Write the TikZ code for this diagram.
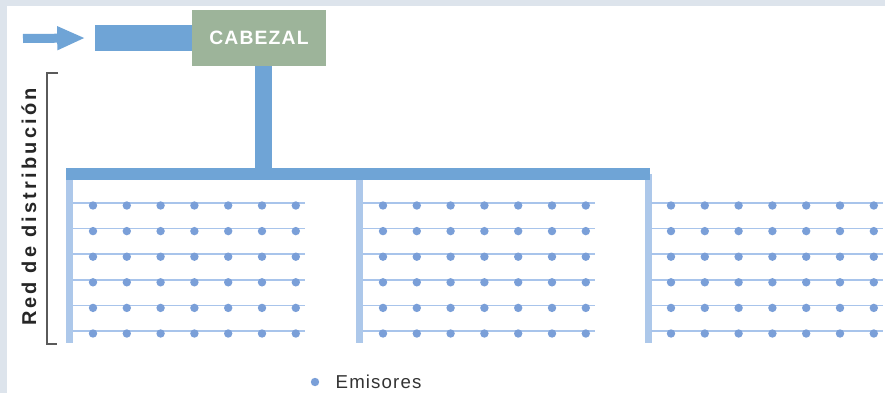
\documentclass[tikz,border=0pt]{standalone}
\usepackage{fontspec}
\setmainfont{Liberation Sans}
\newfontfamily\trackedfont{Liberation Sans}[LetterSpace=16]
\newfontfamily\lighttrack{Liberation Sans}[LetterSpace=6]
\usetikzlibrary{arrows.meta,positioning}

\definecolor{pipeblue}{RGB}{111,164,214}
\definecolor{laterblue}{RGB}{173,200,234}
\definecolor{rowblue}{RGB}{168,196,235}
\definecolor{dotblue}{RGB}{122,159,216}
\definecolor{headgreen}{RGB}{157,180,154}
\definecolor{framegray}{RGB}{221,228,236}
\definecolor{bracketgray}{RGB}{90,90,90}

\begin{document}
\begin{tikzpicture}[
    x=0.75pt, y=-0.75pt,
    headbox/.style={fill=headgreen, text=white, minimum width=100.5pt, minimum height=42pt,
        inner sep=0pt, font=\lighttrack\bfseries\fontsize{14.5}{16}\selectfont},
    feedbar/.style={fill=pipeblue, minimum width=72.75pt, minimum height=19.5pt, inner sep=0pt},
    riser/.style={draw=pipeblue, line width=12.75pt},
    header/.style={draw=pipeblue, line width=9pt},
    lateral/.style={draw=laterblue, line width=5.25pt},
    row/.style={draw=rowblue, line width=1.1pt},
    emitter/.style={circle, fill=dotblue, inner sep=0pt, minimum size=6.3pt}
]
\useasboundingbox (0,0) rectangle (885,393);

% Page background
\fill[framegray] (0,0) rectangle (885,393);
\fill[white] (7,6) rectangle (885,393);

% Head unit and water inlet
\node[headbox] (cabezal) at (259,38) {CABEZAL};
\node[feedbar, anchor=east] (feed) at ([xshift=0.75pt]cabezal.west) {};
\coordinate (inlet) at (23,38.5);
\draw[pipeblue, line width=6.75pt, -{Triangle[length=21pt,width=16.5pt]}]
    (inlet) -- ([xshift=-7.5pt]feed.west);

% Main line down to the header
\coordinate (tee) at (263,174);
\coordinate (hdrW) at (66,174);
\coordinate (hdrE) at (650,174);

% Laterals and emitter rows
\foreach \gx/\lx in {73/69.5, 363/359.5, 651/648} {
    \draw[lateral] (\lx,174) -- (\lx,343);
    \foreach \r in {0,...,5} {
        \draw[row] (\gx,203+25.6*\r) -- (\gx+232,203+25.6*\r);
        \foreach \k in {0,...,6}
            \node[emitter] at (\gx+20+33.8*\k,205.5+25.6*\r) {};
    }
}

\draw[riser] (cabezal.south -| tee) -- (tee);
\draw[header] (hdrW) -- (hdrE);

% Distribution network bracket
\draw[bracketgray, line width=1.1pt] (58,73) -- (47,73) -- (47,344) -- (57,344);
\node[rotate=90, font=\trackedfont\bfseries\fontsize{15}{17}\selectfont, text=black!85] (redlabel) at (29,207) {Red de distribución};

% Legend
\node[emitter] (legdot) at (315,382) {};
\node[right=12pt of legdot, font=\lighttrack\fontsize{14}{16}\selectfont, text=black!80, inner sep=0pt] (legtext) {Emisores};

\end{tikzpicture}
\end{document}
